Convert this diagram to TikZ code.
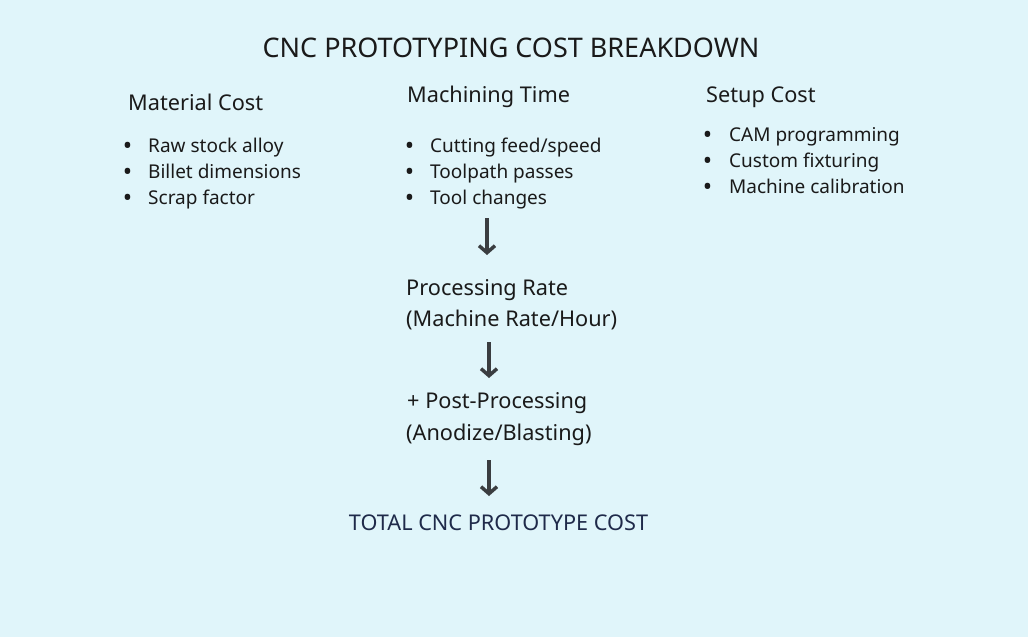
\documentclass[tikz,border=0pt]{standalone}
\usepackage{fontspec}
\setmainfont{Noto Sans}
\usetikzlibrary{arrows.meta}
\definecolor{bgcyan}{HTML}{E0F5FA}
\definecolor{inkgray}{HTML}{1A1A1A}
\definecolor{navy}{HTML}{1F2A4A}
\definecolor{arrowgray}{HTML}{3A3D40}
\tikzset{
  txt/.style={anchor=base west,inner sep=0pt,text=inkgray},
  head/.style={txt,font=\fontsize{21.7}{26}\selectfont},
  item/.style={txt,font=\fontsize{19}{23}\selectfont},
  dot/.style={anchor=base,inner sep=0pt,text=inkgray,font=\fontsize{25}{23}\selectfont},
  flow/.style={arrowgray,line width=3.5pt,-{Straight Barb[length=7pt,width=16pt]}}
}
\begin{document}
\begin{tikzpicture}[x=1pt,y=-1pt]
\fill[bgcyan](0,0) rectangle (1028,637);
\useasboundingbox (0,0) rectangle (1028,637);
% title
\node[txt,anchor=base,font=\fontsize{27}{32}\selectfont] (title) at (511,57) {CNC PROTOTYPING COST BREAKDOWN};
% column heads
\node[head] (mat) at (128,110) {Material Cost};
\node[head] (mach) at (407,102) {Machining Time};
\node[head] (set) at (706,102) {Setup Cost};
% bullet lists
\foreach \t [count=\i] in {Raw stock alloy,Billet dimensions,Scrap factor}{
  \node[item] (mat\i) at (148,{152.7+26*(\i-1)}) {\t};
  \node[dot] (matb\i) at (127.5,{154+26*(\i-1)}) {•};
}
\foreach \t [count=\i] in {Cutting feed/speed,Toolpath passes,Tool changes}{
  \node[item] (mach\i) at (430,{152.7+26*(\i-1)}) {\t};
  \node[dot] (machb\i) at (409.5,{154+26*(\i-1)}) {•};
}
\foreach \t [count=\i] in {CAM programming,Custom fixturing,Machine calibration}{
  \node[item] (set\i) at (729,{141.7+26*(\i-1)}) {\t};
  \node[dot] (setb\i) at (707.5,{143+26*(\i-1)}) {•};
}
% flow down the middle
\node[head] (rate) at (406,295) {Processing Rate};
\node[head] (rate2) at (406,326) {(Machine Rate/Hour)};
\node[head] (post) at (407,408) {+ Post-Processing};
\node[head] (post2) at (406,440) {(Anodize/Blasting)};
\node[head,anchor=base,text=navy] (total) at (498.5,530) {TOTAL CNC PROTOTYPE COST};
\coordinate (a1) at (487,218);
\coordinate (b1) at (487,255);
\coordinate (a2) at (489,342);
\coordinate (b2) at (489,378);
\coordinate (a3) at (489,460);
\coordinate (b3) at (489,496);
\draw[flow] (a1) -- (b1);
\draw[flow] (a2) -- (b2);
\draw[flow] (a3) -- (b3);
\end{tikzpicture}
\end{document}
